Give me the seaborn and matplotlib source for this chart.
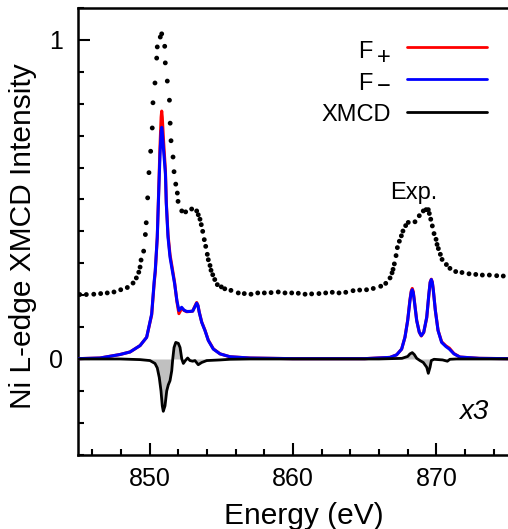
import numpy as np
import pandas as pd
import matplotlib
matplotlib.use('Agg')
import matplotlib.pyplot as plt
from matplotlib.ticker import MultipleLocator, FixedLocator
import seaborn as sns

# Experimental spectrum (dots), offset upward
exp_energy = [845.12, 845.58, 846.10, 846.58, 847.04, 847.51, 847.98, 848.44, 848.84, 849.07,
              849.24, 849.33, 849.40, 849.58, 849.70, 849.76, 849.86, 849.95, 850.07, 850.18,
              850.23, 850.37, 850.49, 850.53, 850.74, 850.84, 851.05, 851.09, 851.23, 851.38,
              851.43, 851.49, 851.63, 851.70, 851.82, 851.93, 851.98, 852.24, 852.51, 852.93,
              853.28, 853.39, 853.51, 853.60, 853.70, 853.81, 853.91, 854.02, 854.09, 854.21,
              854.28, 854.40, 854.54, 854.72, 855.00, 855.24, 855.67, 856.18, 856.60, 857.07,
              857.54, 858.00, 858.47, 858.97, 859.44, 859.91, 860.37, 860.84, 861.30, 861.81,
              862.28, 862.74, 863.21, 863.68, 864.19, 864.65, 865.13, 865.60, 866.12, 866.47,
              866.77, 866.91, 866.98, 867.07, 867.19, 867.28, 867.42, 867.56, 867.67, 867.86,
              868.04, 868.51, 868.81, 869.09, 869.28, 869.44, 869.51, 869.61, 869.72, 869.84,
              869.98, 870.05, 870.14, 870.28, 870.40, 870.70, 870.95, 871.35, 871.79, 872.28,
              872.75, 873.21, 873.70, 874.21, 874.67]
exp_intensity = [0.202, 0.202, 0.203, 0.205, 0.207, 0.210, 0.217, 0.224, 0.238, 0.254,
                 0.272, 0.288, 0.310, 0.338, 0.390, 0.427, 0.505, 0.584, 0.651, 0.724,
                 0.803, 0.865, 0.943, 0.978, 1.009, 1.019, 0.980, 0.928, 0.871, 0.811,
                 0.739, 0.684, 0.633, 0.587, 0.548, 0.520, 0.494, 0.464, 0.461, 0.470,
                 0.464, 0.452, 0.438, 0.421, 0.400, 0.374, 0.353, 0.328, 0.311, 0.293,
                 0.278, 0.264, 0.249, 0.233, 0.226, 0.220, 0.215, 0.207, 0.205, 0.203,
                 0.207, 0.207, 0.208, 0.210, 0.207, 0.207, 0.206, 0.203, 0.204, 0.205,
                 0.207, 0.209, 0.207, 0.209, 0.214, 0.216, 0.217, 0.221, 0.228, 0.237,
                 0.254, 0.270, 0.281, 0.298, 0.324, 0.349, 0.369, 0.386, 0.401, 0.418,
                 0.428, 0.430, 0.449, 0.464, 0.468, 0.468, 0.456, 0.438, 0.417, 0.393,
                 0.375, 0.359, 0.346, 0.328, 0.312, 0.296, 0.284, 0.274, 0.271, 0.267,
                 0.265, 0.263, 0.263, 0.261, 0.260]

# Calculated spectra F- (blue) and F+ (red)
calc_energy = [845.00, 846.53, 847.93, 848.63, 849.33, 849.79, 850.14, 850.32, 850.39, 850.53,
               850.63, 850.72, 850.80, 850.84, 850.88, 850.96, 851.10, 851.16, 851.28, 851.42,
               851.58, 851.74, 851.90, 852.04, 852.23, 852.40, 852.58, 852.81, 853.00, 853.16,
               853.28, 853.37, 853.46, 853.63, 853.86, 854.09, 854.44, 854.91, 855.60, 857.00,
               860.00, 865.00, 866.77, 867.23, 867.58, 867.81, 868.00, 868.16, 868.25, 868.32,
               868.39, 868.46, 868.63, 868.81, 868.95, 869.12, 869.33, 869.48, 869.57, 869.65,
               869.72, 869.79, 869.93, 870.12, 870.37, 870.67, 870.91, 871.23, 871.65, 873.00,
               875.00]
f_minus = [0.001, 0.003, 0.014, 0.022, 0.042, 0.068, 0.141, 0.246, 0.277, 0.382,
           0.520, 0.640, 0.712, 0.726, 0.712, 0.660, 0.580, 0.487, 0.382, 0.319,
           0.277, 0.236, 0.183, 0.152, 0.162, 0.153, 0.149, 0.149, 0.150, 0.164,
           0.175, 0.167, 0.146, 0.115, 0.089, 0.058, 0.031, 0.016, 0.007, 0.003,
           0.001, 0.001, 0.005, 0.013, 0.031, 0.068, 0.120, 0.183, 0.210, 0.217,
           0.208, 0.183, 0.120, 0.084, 0.073, 0.084, 0.131, 0.204, 0.240, 0.249,
           0.240, 0.215, 0.152, 0.089, 0.052, 0.039, 0.031, 0.016, 0.006, 0.002,
           0.001]
f_plus = [0.001, 0.003, 0.014, 0.022, 0.042, 0.068, 0.138, 0.240, 0.272, 0.380,
          0.530, 0.665, 0.758, 0.777, 0.758, 0.690, 0.590, 0.492, 0.390, 0.327,
          0.284, 0.240, 0.180, 0.142, 0.158, 0.152, 0.148, 0.149, 0.150, 0.166,
          0.177, 0.168, 0.147, 0.116, 0.090, 0.059, 0.032, 0.016, 0.007, 0.003,
          0.001, 0.001, 0.005, 0.013, 0.031, 0.068, 0.121, 0.186, 0.213, 0.221,
          0.211, 0.186, 0.121, 0.084, 0.072, 0.083, 0.129, 0.202, 0.241, 0.250,
          0.241, 0.216, 0.153, 0.090, 0.054, 0.041, 0.034, 0.017, 0.006, 0.002,
          0.001]

# XMCD (F+ - F-) x3
xmcd_energy = [845.00, 847.93, 849.33, 850.02, 850.37, 850.53, 850.67, 850.79, 850.88, 850.95,
               851.07, 851.19, 851.30, 851.42, 851.54, 851.61, 851.70, 851.82, 852.00, 852.12,
               852.24, 852.35, 852.49, 852.65, 852.81, 853.00, 853.16, 853.39, 853.63, 853.98,
               854.91, 855.60, 857.00, 866.00, 867.60, 868.00, 868.16, 868.32, 868.46, 868.63,
               868.86, 869.09, 869.33, 869.44, 869.56, 869.65, 869.84, 870.14, 870.44, 870.77,
               870.95, 871.40, 875.00]
xmcd = [0.000, 0.000, -0.002, -0.005, -0.014, -0.028, -0.058, -0.100, -0.147, -0.164,
        -0.147, -0.100, -0.081, -0.068, -0.037, 0.000, 0.036, 0.052, 0.049, 0.036,
        0.000, -0.014, -0.005, 0.003, -0.005, -0.007, -0.005, -0.018, -0.011, -0.005,
        -0.003, -0.001, 0.000, 0.000, 0.002, 0.008, 0.016, 0.020, 0.014, 0.002,
        -0.005, -0.011, -0.026, -0.045, -0.026, -0.005, -0.001, -0.002, -0.003, -0.007,
        -0.001, 0.000, 0.000]

legend_labels = ['F', 'F', 'XMCD']
legend_subs = ['+', '\u2212', '']
legend_colors = ['#ff0000', '#0000ff', 'black']

sns.set_style('ticks')
plt.rcParams['font.family'] = ['Liberation Sans', 'DejaVu Sans']
for key in ['text.color', 'axes.labelcolor', 'xtick.color', 'ytick.color', 'axes.edgecolor']:
    plt.rcParams[key] = 'black'

fig = plt.figure(figsize=(5.08, 5.29), dpi=100)
ax = fig.add_axes([78 / 508, 74.3 / 529, 430 / 508, 446.7 / 529])

calc_df = pd.DataFrame({'Energy': calc_energy, 'Fplus': f_plus, 'Fminus': f_minus})
xmcd_df = pd.DataFrame({'Energy': xmcd_energy, 'XMCD': xmcd})
exp_df = pd.DataFrame({'Energy': exp_energy, 'Intensity': exp_intensity})

sns.scatterplot(data=exp_df, x='Energy', y='Intensity', color='black', s=12,
                edgecolor='none', ax=ax, zorder=3)
sns.lineplot(data=calc_df, x='Energy', y='Fplus', color='#ff0000', lw=2.2,
             estimator=None, sort=False, ax=ax, zorder=4)
sns.lineplot(data=calc_df, x='Energy', y='Fminus', color='#0000ff', lw=2.2,
             estimator=None, sort=False, ax=ax, zorder=5)
ax.fill_between(xmcd_df['Energy'], xmcd_df['XMCD'], 0, color='#c0c0c0', lw=0, zorder=2)
sns.lineplot(data=xmcd_df, x='Energy', y='XMCD', color='black', lw=2.0,
             estimator=None, sort=False, ax=ax, zorder=6)

ax.set_xlim(845, 875)
ax.set_ylim(-0.3, 1.1)
ax.xaxis.set_major_locator(FixedLocator([850, 860, 870]))
ax.xaxis.set_minor_locator(MultipleLocator(2))
ax.yaxis.set_major_locator(FixedLocator([0, 1]))
ax.yaxis.set_minor_locator(MultipleLocator(0.1))
ax.set_yticklabels(['0', '1'])

ax.tick_params(which='both', direction='in', width=1.5, labelsize=18, color='black')
ax.tick_params(which='major', length=8.5)
ax.tick_params(which='minor', length=4)
ax.tick_params(axis='x', pad=9)
ax.tick_params(axis='y', pad=11)

for side in ['left', 'bottom', 'top']:
    ax.spines[side].set_linewidth(1.8)
ax.spines['right'].set_visible(False)

ax.set_xlabel('Energy (eV)', fontsize=21.5)
ax.set_ylabel('Ni L-edge XMCD Intensity', fontsize=21.5)
ax.xaxis.set_label_coords(0.526, -0.105)
ax.yaxis.set_label_coords(-0.095, 0.49)

ax.text(868.4, 0.52, 'Exp.', fontsize=17, ha='center', va='center')
ax.text(872.6, -0.166, 'x3', fontsize=20, ha='center', va='center', style='italic')

# legend: label on the left, line on the right
row_y = [0.9134, 0.8411, 0.7678]
text_base = [0.8881, 0.8160, 0.7477]
sub_base = [0.874, 0.810, 0.7477]
for i in range(3):
    ax.plot([0.7658, 0.9519], [row_y[i], row_y[i]], color=legend_colors[i], lw=2.0,
            transform=ax.transAxes, clip_on=False)
    if legend_subs[i]:
        ax.text(0.7272, sub_base[i], legend_subs[i], fontsize=17, ha='right',
                va='baseline', transform=ax.transAxes)
        ax.text(0.6860, text_base[i], legend_labels[i], fontsize=17, ha='right',
                va='baseline', transform=ax.transAxes)
    else:
        ax.text(0.7272, text_base[i], legend_labels[i], fontsize=17, ha='right',
                va='baseline', transform=ax.transAxes)

fig.savefig('out.png', dpi=100)
